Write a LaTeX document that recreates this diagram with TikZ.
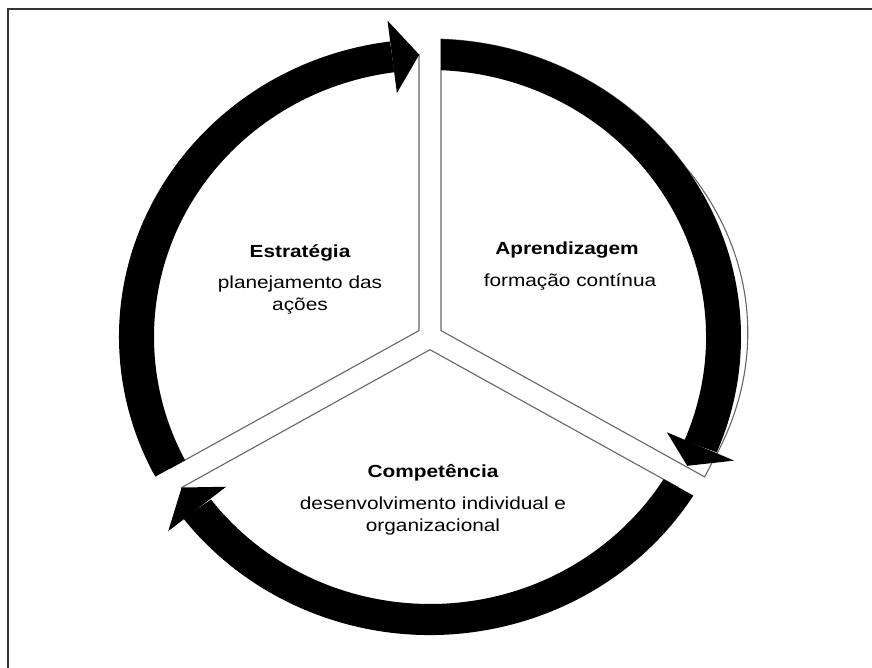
\documentclass[tikz,border=0pt]{standalone}
\usepackage{fontspec}
\setmainfont{Liberation Sans}
\begin{document}
\begin{tikzpicture}[x=1pt,y=1pt,
  sector/.style={fill=white, draw=black!60, line width=1.1pt, line join=miter},
  lbl/.style={font=\fontsize{17.5}{21}\selectfont, xscale=1.19, anchor=base, inner sep=0pt},
  ttl/.style={font=\fontsize{17.5}{21}\selectfont\bfseries, xscale=1.19, anchor=base, inner sep=0pt}]
\useasboundingbox (0,0) rectangle (872,668);
\clip (0,0) rectangle (872,668);
% frame (cropped)
\draw[line width=1.6pt, black!80] (8,-20) -- (8,659) -- (900,659);
% exploded pie sectors
\draw[sector] (441,337.4) -- plot[domain=87.97:-28, samples=90, variable=\t]
  ({430+(311+max(0,7*cos(3*(\t-5))))*cos(\t)},{331+(298+max(0,7*cos(3*(\t-5))))*sin(\t)}) -- cycle;
\draw[sector] (419,337.4) -- plot[domain=92.15:207.7, samples=60, variable=\t]
  ({430+293.5*cos(\t)},{331+282.5*sin(\t)}) -- cycle;
\draw[sector] (430,318.3) -- plot[domain=212.2:327.8, samples=60, variable=\t]
  ({430+293.5*cos(\t)},{331+282.5*sin(\t)}) -- cycle;
% arrow 1 (left, upwards)
\begin{scope}
\clip (419,337.4) -- (419,1000) -- (-400,1000) -- (-400,-116.3) -- cycle;
\fill ({430+311*cos(97.4)},{331+298*sin(97.4)}) arc[start angle=97.4,end angle=226,x radius=311,y radius=298]
  -- ({430+276*cos(226)},{331+267*sin(226)}) arc[start angle=226,end angle=97.4,x radius=276,y radius=267] -- cycle;
\fill ({430+330*cos(97.4)},{331+319*sin(97.4)}) -- ({430+293.5*cos(92.1)},{331+282.5*sin(92.1)})
  -- ({430+257*cos(97.4)},{331+246*sin(97.4)}) -- cycle;
\end{scope}
% arrow 2 (right, downwards)
\begin{scope}
\clip (441,337.4) -- (441,1000) -- (1300,1000) -- (1300,-139.3) -- cycle;
\fill ({430+311*cos(95)},{331+298*sin(95)}) arc[start angle=95,end angle=-22.8,x radius=311,y radius=298]
  -- ({430+276*cos(-22.8)},{331+267*sin(-22.8)}) arc[start angle=-22.8,end angle=95,x radius=276,y radius=267] -- cycle;
\fill ({430+330*cos(-22.8)},{331+319*sin(-22.8)}) -- ({430+290*cos(-27.5)},{331+279*sin(-27.5)})
  -- ({430+257*cos(-22.8)},{331+246*sin(-22.8)}) -- cycle;
\end{scope}
% arrow 3 (bottom, leftwards)
\begin{scope}
\clip (430,318.3) -- (-400,-141.5) -- (-400,-600) -- (1260,-600) -- (1260,-141.5) -- cycle;
\fill ({430+311*cos(335)},{331+298*sin(335)}) arc[start angle=335,end angle=217.5,x radius=311,y radius=298]
  -- ({430+276*cos(217.5)},{331+267*sin(217.5)}) arc[start angle=217.5,end angle=335,x radius=276,y radius=267] -- cycle;
\fill ({430+330*cos(217.5)},{331+319*sin(217.5)}) -- ({430+293.5*cos(212.2)},{331+282.5*sin(212.2)})
  -- ({430+257*cos(217.5)},{331+246*sin(217.5)}) -- cycle;
\end{scope}
% labels
\node[ttl] (t1) at (300,410) {Estratégia};
\node[lbl] (t1a) at (300,379) {planejamento das};
\node[lbl] (t1b) at (300,357) {ações};
\node[ttl] (t2) at (567,413) {Aprendizagem};
\node[lbl] (t2a) at (570,381) {formação contínua};
\node[ttl] (t3) at (433,190) {Competência};
\node[lbl] (t3a) at (433,158) {desenvolvimento individual e};
\node[lbl] (t3b) at (433,136) {organizacional};
\end{tikzpicture}
\end{document}
